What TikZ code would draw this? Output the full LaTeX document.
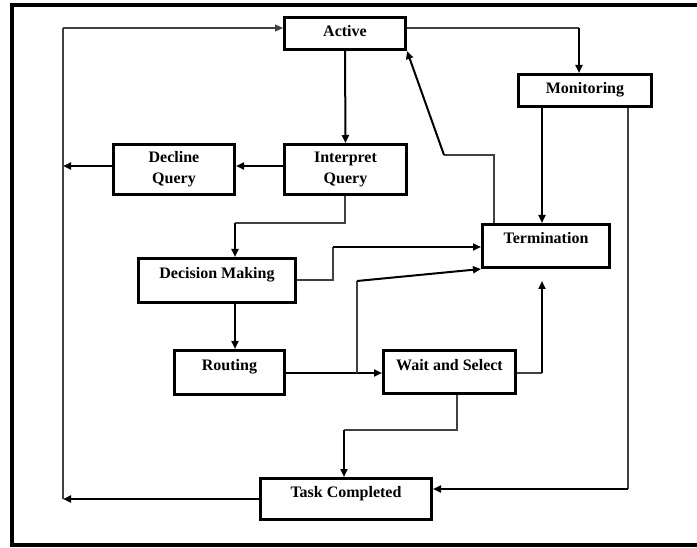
\documentclass[tikz,border=0pt]{standalone}
\usepackage{fontspec}
\setmainfont{Liberation Serif}
\usetikzlibrary{arrows.meta,calc}

\begin{document}
\begin{tikzpicture}[x=1pt,y=-1pt,
  box/.style={draw, line width=3pt, rectangle, inner sep=0pt},
  txt/.style={font=\fontsize{16}{21}\selectfont\bfseries, inner sep=0pt, anchor=base},
  txt2/.style={font=\fontsize{16}{21}\selectfont\bfseries, inner sep=0pt, align=center, anchor=center},
  wire/.style={line width=1.2pt, draw=black!75},
  lead/.style={line width=2pt, -{Triangle[length=8pt,width=7pt]}},
  plain/.style={line width=2pt},
]
\useasboundingbox (0,0) rectangle (697,548);

% outer frame
\draw[line width=4pt] (12,5) rectangle (710,545);

% state boxes
\node[box, minimum width=121pt, minimum height=32pt] (act) at (345,33.5) {};
\node[box, minimum width=133pt, minimum height=32pt] (mon) at (585,90.5) {};
\node[box, minimum width=121pt, minimum height=50pt] (dec) at (174,169.5) {};
\node[box, minimum width=122pt, minimum height=50pt] (int) at (345.5,169.5) {};
\node[box, minimum width=157pt, minimum height=44pt] (dm) at (217,280.5) {};
\node[box, minimum width=110pt, minimum height=44pt] (rt) at (229.5,372.5) {};
\node[box, minimum width=127pt, minimum height=43pt] (term) at (546,246) {};
\node[box, minimum width=132pt, minimum height=43pt] (ws) at (449.5,372) {};
\node[box, minimum width=171pt, minimum height=41pt] (tc) at (346,499) {};

% labels
\node[txt] (tact) at (345,37) {Active};
\node[txt] (tmon) at (585,94) {Monitoring};
\node[txt2] (tdec) at (174,169.5) {Decline\\Query};
\node[txt2] (tint) at (345.5,169.5) {Interpret\\Query};
\node[txt] (tdm) at (217,279) {Decision Making};
\node[txt] (trt) at (229.5,371) {Routing};
\node[txt] (tterm) at (546,244) {Termination};
\node[txt] (tws) at (449.5,371) {Wait and Select};
\node[txt] (ttc) at (346,497) {Task Completed};

% bends and free ends of connectors
\coordinate (lt) at (63,28);
\coordinate (lm) at (63,166);
\coordinate (lb) at (63,499);
\coordinate (am) at (579,28);
\coordinate (mr) at (628,489);
\coordinate (ta) at (494,155);
\coordinate (tb) at (444,155);
\coordinate (ia) at (345,223);
\coordinate (ib) at (235,223);
\coordinate (da) at (333,280);
\coordinate (db) at (333,247);
\coordinate (ra) at (357,373);
\coordinate (rb) at (357,281);
\coordinate (wa) at (542,373);
\coordinate (wb) at (542,281);
\coordinate (wc) at (457,430);
\coordinate (wd) at (344,430);

% Active -> Interpret Query
\draw[lead] (act.south) -- (int.north);
% Interpret Query -> Decline Query -> left rail
\draw[lead] (int.west |- lm) -- (dec.east |- lm);
\draw[lead] (dec.west |- lm) -- (lm);
% Task Completed -> left rail -> Active
\draw[lead] (tc.west |- lb) -- (lb);
\draw[wire] (lb) -- (lt);
\draw[wire, -{Triangle[length=8pt,width=7pt]}] (lt) -- (act.west |- lt);
% Active -> Monitoring
\draw[wire] (act.east |- am) -- (am);
\draw[lead] (am) -- (am |- mon.north);
% Monitoring -> Termination
\draw[lead] (mon.south -| wa) -- (term.north -| wa);
% Monitoring -> Task Completed
\draw[wire] (mon.south -| mr) -- (mr);
\draw[lead] (mr) -- (tc.east |- mr);
% Termination -> Active
\draw[wire] (term.north -| ta) -- (ta) -- (tb);
\draw[lead] (tb) -- (act.south east);
% Interpret Query -> Decision Making
\draw[wire] (int.south -| ia) -- (ia) -- (ib);
\draw[lead] (ib) -- (ib |- dm.north);
% Decision Making -> Termination
\draw[wire] (dm.east |- da) -- (da) -- (db);
\draw[lead] (db) -- (term.west |- db);
% Decision Making -> Routing
\draw[lead] (dm.south -| ib) -- (rt.north -| ib);
% Routing -> Wait and Select
\draw[lead] (rt.east |- ra) -- (ws.west |- ra);
% Routing -> Termination
\draw[wire] (ra) -- (rb);
\draw[lead] (rb) -- (term.south west);
% Wait and Select -> Termination
\draw[wire] (ws.east |- wa) -- (wa);
\draw[lead] (wa) -- (wb);
% Wait and Select -> Task Completed
\draw[wire] (ws.south -| wc) -- (wc) -- (wd);
\draw[lead] (wd) -- (wd |- tc.north);
\end{tikzpicture}
\end{document}
